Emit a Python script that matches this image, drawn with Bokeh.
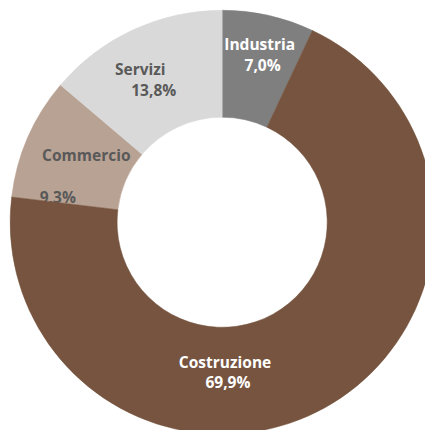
import math
from bokeh.plotting import figure
from bokeh.models import ColumnDataSource, CDSView, IndexFilter, Range1d
from bokeh.core.properties import value
from bokeh.embed import file_html
from bokeh.resources import INLINE

# ---- data ----
categories = ["Industria", "Costruzione", "Commercio", "Servizi"]
shares = [7.0, 69.9, 9.3, 13.8]
pct_labels = ["7,0%", "69,9%", "9,3%", "13,8%"]
colors = ["#7F7F7F", "#76543F", "#B8A293", "#D9D9D9"]
text_colors = ["#FFFFFF", "#FFFFFF", "#595959", "#595959"]

# ---- angles (clockwise from 12 o'clock) ----
total = sum(shares)
starts, ends = [], []
acc = 0.0
for s in shares:
    a0 = math.pi / 2 - 2 * math.pi * acc / total
    acc += s
    a1 = math.pi / 2 - 2 * math.pi * acc / total
    starts.append(a0)
    ends.append(a1)

src = ColumnDataSource(dict(cat=categories, share=shares, start=starts, end=ends,
                            color=colors))

# label placement (style, offsets from the donut centre)
name_pos = [(39, 185), (3, -145), (-141, 70), (-85, 159)]
pct_pos = [(42, 163.5), (6, -166), (-170.5, 26), (-71, 137)]

p = figure(width=425, height=430, output_backend="svg", toolbar_location=None,
           x_range=Range1d(-230, 211), y_range=Range1d(-216, 230),
           min_border=0)
p.axis.visible = False
p.grid.visible = False
p.outline_line_color = None
p.background_fill_color = "white"

R_OUT, R_IN = 220, 109

def wedges(idx):
    p.annular_wedge(x=0, y=0, inner_radius=R_IN, outer_radius=R_OUT,
                    start_angle="start", end_angle="end", direction="clock",
                    fill_color="color", line_color="color", line_width=0.5,
                    source=src, view=CDSView(filter=IndexFilter(idx)))

def label(i, which):
    if which == "name":
        (x, y), t = name_pos[i], categories[i]
    else:
        (x, y), t = pct_pos[i], pct_labels[i]
    p.text(x=[x], y=[y], text=[t], text_align="center", text_baseline="middle",
           text_font=value("Open Sans"), text_font_style="bold",
           text_font_size="15.5px", text_color=text_colors[i])

# draw other slices, then the Commercio percentage (partly hidden), then Costruzione
wedges([0, 2, 3])
label(2, "pct")
wedges([1])
for i in range(4):
    label(i, "name")
    if i != 2:
        label(i, "pct")

open("out.html", "w").write(file_html(p, INLINE))
